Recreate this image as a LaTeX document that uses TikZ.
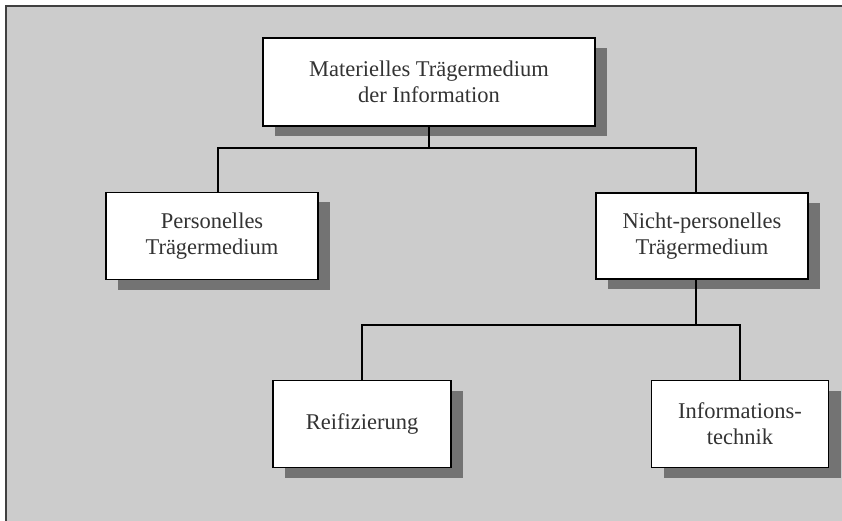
\documentclass[tikz,border=0pt]{standalone}
\usepackage{fontspec}
\setmainfont{Liberation Serif}
\usetikzlibrary{shadows}
\definecolor{paper}{gray}{0.80}
\definecolor{shade}{gray}{0.45}
\definecolor{ink}{gray}{0.20}
\tikzset{
  box/.style={draw=black, line width=1.6pt, fill=white, text=ink, align=center,
    font=\fontsize{22.5}{26}\selectfont,
    drop shadow={shadow xshift=12pt, shadow yshift=-10pt, fill=shade, opacity=1}},
  link/.style={draw=black, line width=1.6pt}
}
\begin{document}
\begin{tikzpicture}[x=1pt, y=-1pt]
\useasboundingbox (0,0) rectangle (842,521);
\fill[white] (0,0) rectangle (842,521);
\fill[paper] (6,6) rectangle (842,521);
\draw[line width=2pt, black!75] (6,521) -- (6,6) -- (842,6);
\node (traeger)[box, minimum width=332pt, minimum height=88pt] at (429, 82) {Materielles Trägermedium\\der Information};
\node (pers)[box, minimum width=212pt, minimum height=87pt] at (212, 236) {Personelles\\Trägermedium};
\node (nichtpers)[box, minimum width=212pt, minimum height=86pt] at (702, 236) {Nicht-personelles\\Trägermedium};
\node (reif)[box, minimum width=178pt, minimum height=87pt] at (362, 424) {Reifizierung};
\node (infotech)[box, minimum width=177pt, minimum height=87pt] at (740, 424) {Informations-\\technik};
\coordinate (bar1) at (429, 148);
\coordinate (bar2) at (696, 325);
\draw[link] (traeger.south) -- (bar1) -| ([xshift=6pt]pers.north);
\draw[link] (bar1) -| ([xshift=-6pt]nichtpers.north);
\draw[link] ([xshift=-6pt]nichtpers.south) -- (bar2) -| (reif.north);
\draw[link] (bar2) -| (infotech.north);
\end{tikzpicture}
\end{document}
